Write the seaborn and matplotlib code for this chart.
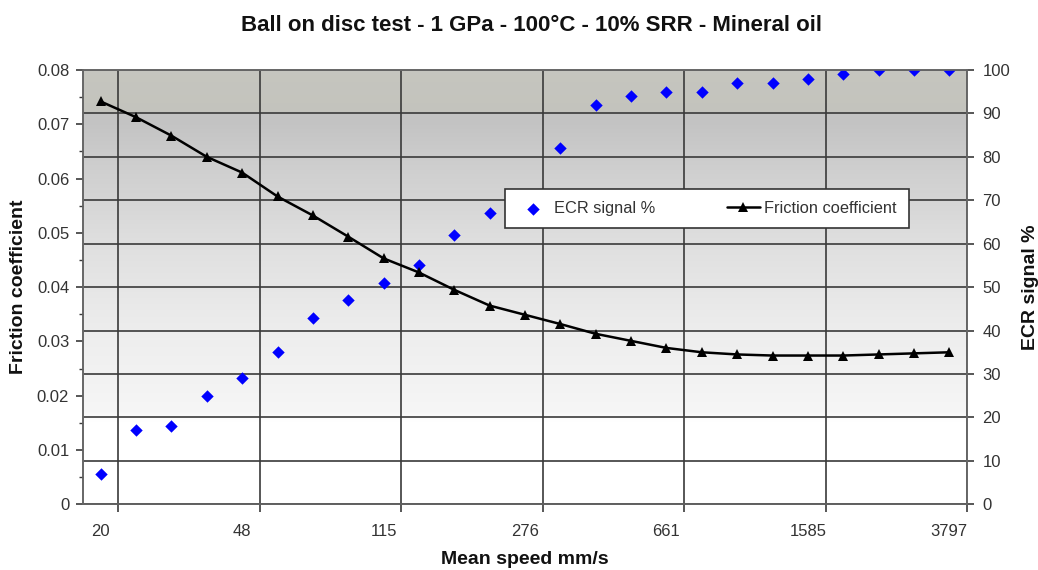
import numpy as np
import matplotlib
matplotlib.use("Agg")
import matplotlib.pyplot as plt
import seaborn as sns
from matplotlib.ticker import FixedLocator, MultipleLocator

# mean speed of each measuring step (mm/s), only every 4th one is labelled
speed_mm_s = [20, 25, 31, 39, 48, 60, 74, 93, 115, 143, 178, 222, 276,
              344, 428, 532, 661, 823, 1024, 1274, 1585, 1972, 2454, 3054, 3797]
friction_coef = [0.0742, 0.0713, 0.0679, 0.0640, 0.0611, 0.0567, 0.0532, 0.0493,
                 0.0453, 0.0427, 0.0395, 0.0366, 0.0349, 0.0332, 0.0314, 0.0301,
                 0.0288, 0.0280, 0.0276, 0.0274, 0.0274, 0.0274, 0.0276, 0.0278, 0.0280]
ecr_signal = [7, 17, 18, 25, 29, 35, 43, 47, 51, 55, 62, 67, 70,
              82, 92, 94, 95, 95, 97, 97, 98, 99, 100, 100, 100]
friction_ticks = [0, 0.01, 0.02, 0.03, 0.04, 0.05, 0.06, 0.07, 0.08]
friction_labels = ["0", "0.01", "0.02", "0.03", "0.04", "0.05", "0.06", "0.07", "0.08"]
ecr_ticks = [0, 10, 20, 30, 40, 50, 60, 70, 80, 90, 100]

sns.set_theme(style="white")
plt.rcParams["font.family"] = ["Liberation Sans", "DejaVu Sans"]

pos = np.arange(len(speed_mm_s))  # category axis, like the Excel original

fig = plt.figure(figsize=(10.38, 5.70), dpi=100)
ax = fig.add_axes([0.080, 0.1153, 0.8516, 0.7619])
ax2 = ax.twinx()

# grey-to-white background gradient of the plot area
fr = np.linspace(0, 1, 400)
grey = np.interp(fr, [0, 0.19, 0.21, 0.4, 0.6, 0.8, 0.88, 1.0],
                 [1.0, 1.0, 0.965, 0.93, 0.875, 0.80, 0.765, 0.775])
rgb = np.stack([grey, grey, grey - np.where(fr > 0.9, 0.025, 0)], axis=1)
bg = rgb[::-1][:, None, :].repeat(2, axis=1)
ax.imshow(bg, extent=(0, 1, 0, 1), transform=ax.transAxes, aspect="auto",
          zorder=0, interpolation="bilinear")

# ECR signal on the right scale (drawn on the lower axes)
sns.scatterplot(x=pos, y=ecr_signal, marker="D", s=40, color="#0000ff",
                linewidth=0, ax=ax, label="ECR signal %", zorder=3)
# friction coefficient on the left scale
sns.lineplot(x=pos, y=friction_coef, marker="^", markersize=7, color="black",
             linewidth=1.8, markeredgewidth=0, ax=ax2, label="Friction coefficient")

for a in (ax, ax2):
    a.set_xlim(-0.5, len(pos) - 0.5)
    if a.get_legend():
        a.get_legend().remove()
ax.set_ylim(0, 100)
ax2.set_ylim(0, 0.08)

# swap sides: ECR scale on the right, friction scale on the left
ax.yaxis.tick_right()
ax.yaxis.set_label_position("right")
ax2.yaxis.tick_left()
ax2.yaxis.set_label_position("left")

ax.set_yticks(ecr_ticks)
ax.set_yticklabels([str(t) for t in ecr_ticks])
ax2.set_yticks(friction_ticks)
ax2.set_yticklabels(friction_labels)
ax2.yaxis.set_minor_locator(MultipleLocator(0.005))

ax.set_xticks(pos[::4])
ax.set_xticklabels([str(s) for s in speed_mm_s[::4]])
ax.xaxis.set_minor_locator(FixedLocator(pos[::4] + 0.5))

ax.set_axisbelow(True)
ax.grid(True, axis="y", which="major", color="#3a3a3a", linewidth=1.2)
ax.grid(True, axis="x", which="minor", color="#3a3a3a", linewidth=1.2)
ax.grid(False, axis="x", which="major")
ax2.grid(False)

tick_col = "#333333"
ax.tick_params(axis="x", which="major", length=0, pad=14, labelsize=12, labelcolor=tick_col)
ax.tick_params(axis="x", which="minor", bottom=True, length=6, width=1.2, color="#3a3a3a")
ax.tick_params(axis="y", which="major", right=True, left=False, length=5, width=1.2,
               color="#3a3a3a", pad=6, labelsize=12, labelcolor=tick_col)
ax2.tick_params(axis="y", which="major", left=True, right=False, length=5, width=1.2,
                color="#3a3a3a", pad=5, labelsize=12, labelcolor=tick_col)
ax2.tick_params(axis="y", which="minor", left=True, right=False, length=3, width=1,
                color="#3a3a3a")
ax2.tick_params(axis="x", which="both", bottom=False, labelbottom=False)

for a in (ax, ax2):
    for sp in a.spines.values():
        sp.set_color("#666666")
        sp.set_linewidth(1.2)
ax.spines["bottom"].set_color("#3a3a3a")

ax2.set_ylabel("Friction coefficient", fontsize=14, fontweight="bold", color="#111111")
ax2.yaxis.set_label_coords(-0.063, 0.5)
ax.set_ylabel("ECR signal %", fontsize=14, fontweight="bold", color="#111111")
ax.yaxis.set_label_coords(1.062, 0.5)
ax.set_xlabel("Mean speed mm/s", fontsize=14, fontweight="bold", color="#111111")
ax.xaxis.set_label_coords(0.5, -0.108)

fig.text(0.5125, 0.956, "Ball on disc test - 1 GPa - 100°C - 10% SRR - Mineral oil",
         ha="center", va="center", fontsize=16, fontweight="bold", color="#111111")

h1, l1 = ax.get_legend_handles_labels()
h2, l2 = ax2.get_legend_handles_labels()
leg = ax2.legend(h1 + h2, l1 + l2, ncol=2, loc="center", mode="expand",
                 bbox_to_anchor=(0.477, 0.634, 0.457, 0.095), fontsize=11.8,
                 frameon=True, fancybox=False, edgecolor="#333333", framealpha=1,
                 handlelength=2.0, handletextpad=0.25, borderaxespad=0, borderpad=0.75)
leg.get_frame().set_linewidth(1.2)
for t in leg.get_texts():
    t.set_color("#333333")

fig.savefig("out.png", dpi=100)
